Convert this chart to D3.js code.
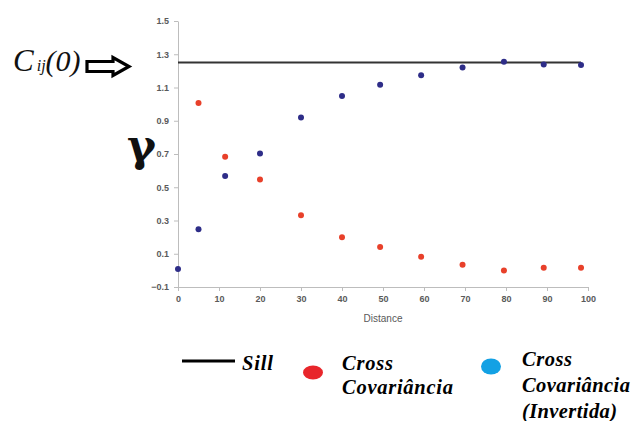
<!DOCTYPE html>
<html>
<head>
<meta charset="utf-8">
<script src="https://cdn.jsdelivr.net/npm/d3@7"></script>
<style>
  body { margin: 0; background: #fff; }
  svg { display: block; }
</style>
</head>
<body>
<svg></svg>
<script>
// data
const distance = [0, 5, 11.5, 20, 30, 40, 49.3, 59.3, 69.4, 79.5, 89.2, 98.3];
const crossCov = [null, 1.007, 0.683, 0.547, 0.332, 0.2, 0.14, 0.082, 0.034, 0.0, 0.016, 0.016];
const crossCovInv = [0.008, 0.248, 0.568, 0.703, 0.919, 1.049, 1.117, 1.173, 1.221, 1.255, 1.239, 1.235];
const sill = 1.25;
const yTicks = [-0.1, 0.1, 0.3, 0.5, 0.7, 0.9, 1.1, 1.3, 1.5];
const xTicks = [0, 10, 20, 30, 40, 50, 60, 70, 80, 90, 100];

const outerWidth = 635;
const outerHeight = 421;
const margin = { top: 21, right: 47, bottom: 134, left: 178 };
const width = outerWidth - margin.left - margin.right;
const height = outerHeight - margin.top - margin.bottom;

const svg = d3.select("svg")
  .attr("width", outerWidth)
  .attr("height", outerHeight);

const g = svg.append("g")
  .attr("transform", `translate(${margin.left}, ${margin.top})`);

const x = d3.scaleLinear().domain([0, 100]).range([0, width]);
const y = d3.scaleLinear().domain([-0.1, 1.5]).range([height, 0]);

// axes
const sans = "'Liberation Sans', Arial, sans-serif";
const xAxis = g.append("g")
  .attr("transform", `translate(0, ${height})`)
  .call(d3.axisBottom(x).tickValues(xTicks).tickSize(4).tickSizeOuter(0).tickPadding(5));

const yAxis = g.append("g")
  .call(d3.axisLeft(y).tickValues(yTicks).tickFormat(d3.format(".1f")).tickSize(4).tickSizeOuter(0).tickPadding(5));

[xAxis, yAxis].forEach(a => {
  a.select(".domain").attr("stroke", "#bdbdbd");
  a.selectAll(".tick line").attr("stroke", "#bdbdbd");
  a.selectAll(".tick text")
    .attr("fill", "#5a5a5a")
    .style("font-family", sans)
    .style("font-size", "9px")
    .style("font-weight", "bold");
});

g.append("text")
  .attr("x", x(50))
  .attr("y", height + 35)
  .attr("text-anchor", "middle")
  .attr("fill", "#595959")
  .style("font-family", sans)
  .style("font-size", "10px")
  .text("Distance");

// sill line
g.append("line")
  .attr("x1", x(0))
  .attr("x2", x(98.3))
  .attr("y1", y(sill))
  .attr("y2", y(sill))
  .attr("stroke", "#333")
  .attr("stroke-width", 2);

// points
const pts = distance.map((d, i) => ({ d, red: crossCov[i], blue: crossCovInv[i] }));

g.selectAll(".blue")
  .data(pts)
  .enter()
  .append("circle")
  .attr("class", "blue")
  .attr("cx", p => x(p.d))
  .attr("cy", p => y(p.blue))
  .attr("r", 3)
  .style("fill", "#2e2d88");

g.selectAll(".red")
  .data(pts.filter(p => p.red !== null))
  .enter()
  .append("circle")
  .attr("class", "red")
  .attr("cx", p => x(p.d))
  .attr("cy", p => y(p.red))
  .attr("r", 3)
  .style("fill", "#e8402a");

// annotations on the left
const serif = "'Liberation Serif', 'DejaVu Serif', serif";
const cLabel = svg.append("text")
  .attr("x", 13)
  .attr("y", 71)
  .attr("font-family", serif)
  .attr("font-style", "italic")
  .attr("fill", "#111");
cLabel.append("tspan").attr("font-size", 31).text("C");
cLabel.append("tspan").attr("font-size", 16).attr("dx", 3).text("ij");
cLabel.append("tspan").attr("font-size", 30).text("(0)");

// hollow arrow
svg.append("path")
  .attr("d", "M87,61.5 L113,61.5 L113,57.5 L129,66.5 L113,75.5 L113,71.5 L87,71.5 Z")
  .attr("fill", "#fff")
  .attr("stroke", "#000")
  .attr("stroke-width", 3.2)
  .attr("stroke-linejoin", "miter");

svg.append("text")
  .attr("x", 127)
  .attr("y", 161)
  .attr("font-family", "'DejaVu Serif', serif")
  .attr("font-weight", "bold")
  .attr("font-size", 44)
  .attr("fill", "#111")
  .text("γ");

// legend
const legend = svg.append("g")
  .attr("font-family", serif)
  .attr("font-style", "italic")
  .attr("font-weight", "bold")
  .attr("font-size", 20.5)
  .attr("fill", "#000");

const legendText = (tx, ty, s, len) =>
  legend.append("text").attr("x", tx).attr("y", ty).attr("textLength", len).text(s);

legend.append("line")
  .attr("x1", 182).attr("x2", 235)
  .attr("y1", 361).attr("y2", 361)
  .attr("stroke", "#000")
  .attr("stroke-width", 3);
legendText(242, 370, "Sill", 31);

legend.append("ellipse")
  .attr("cx", 313).attr("cy", 372.5)
  .attr("rx", 10).attr("ry", 7)
  .attr("fill", "#e8262b");
legendText(342, 370, "Cross", 51);
legendText(342, 394, "Covariância", 111);

legend.append("ellipse")
  .attr("cx", 491).attr("cy", 366.5)
  .attr("rx", 10).attr("ry", 8)
  .attr("fill", "#13a1e4");
legendText(522, 366, "Cross", 50);
legendText(522, 392, "Covariância", 108);
legendText(522, 418, "(Invertida)", 95);
</script>
</body>
</html>
